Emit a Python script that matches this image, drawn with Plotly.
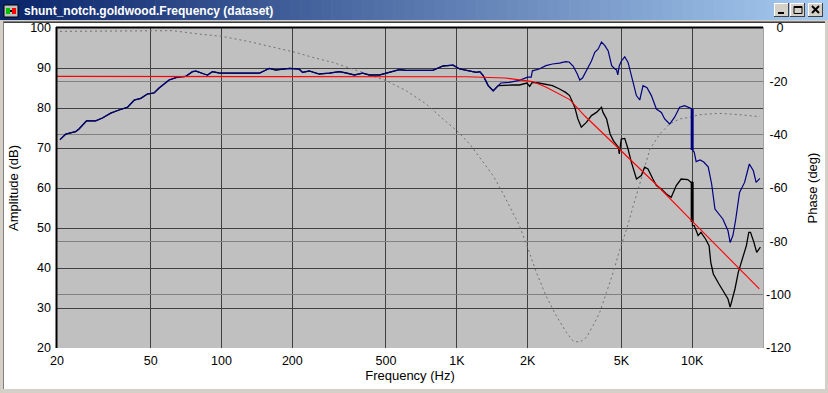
import plotly.graph_objects as go

# ---------------- data ----------------
common_freq = [20.6, 21.8, 24.0, 24.8, 26.7, 29.2, 31.2, 33.8, 36.7, 39.9, 42.6, 45.4, 48.4, 51.7,
               54.3, 59.9, 65, 70.5, 75.3, 78, 84.4, 87.2, 91.5, 97.8, 111, 145, 154.5, 159.6,
               170, 182, 195, 214, 221, 236, 260, 287, 317, 339, 367, 398, 425, 469, 517, 570,
               609, 790, 873, 964, 1029, 1134, 1210, 1252, 1294, 1359, 1428, 1500]
common_db = [72.1, 73.5, 74.1, 74.75, 76.8, 76.8, 77.5, 78.7, 79.5, 80.2, 82, 82.4, 83.5, 83.75,
             85, 87, 87.7, 87.9, 89.1, 89.2, 88.5, 88.25, 89.1, 88.75, 88.7, 88.7, 89.5, 89.9,
             89.5, 89.75, 89.9, 89.7, 88.9, 89.25, 88.5, 88.7, 89.1, 88.75, 88.25, 88.7, 88.25,
             88.25, 88.9, 89.6, 89.4, 89.4, 90.5, 90.7, 89.75, 89.2, 88.9, 89.1, 88.1, 85.6,
             84.3, 85.6]

blue_hf_freq = [1540, 1670, 1844, 2000, 2070, 2095, 2240, 2390, 2550, 2730, 2900, 3000, 3120,
                3250, 3330, 3420, 3553, 3733, 3857, 3987, 4120, 4257, 4399, 4549, 4700, 4776,
                4830, 4900, 5005, 5170, 5342, 5521, 5795, 5987, 6185, 6430, 6710, 7047, 7400,
                7643, 8024, 8423, 8844, 9286, 9750, 10000, 10030, 10200, 10400, 10800, 11200,
                11700, 12100, 12500, 13500, 14200, 14500, 14900, 15300, 15900, 16700, 17500,
                18200, 18700, 19400]
blue_hf_db = [86.25, 86.4, 86.9, 87.7, 87.7, 89.3, 89.75, 90.6, 91.0, 91.2, 91.6, 91.5, 90.5,
              88.5, 87.0, 87.5, 89.2, 91.75, 93.9, 94.75, 96.5, 95.6, 94.25, 90.6, 89.75, 89.5,
              88.3, 90.5, 91.75, 92.8, 91.4, 88.0, 83.1, 82.0, 85.6, 85.1, 83.1, 79.75, 78.9,
              77.25, 76.0, 77.7, 80.2, 80.6, 80.0, 79.75, 69.5, 69.0, 66.6, 67.0, 66.5, 65.3,
              61.0, 54.75, 52.25, 49.3, 46.4, 48.1, 52.0, 58.9, 61.4, 66.0, 64.3, 61.4, 62.4]

black_hf_freq = [1627, 1740, 1844, 1985, 2040, 2091, 2230, 2390, 2550, 2733, 2900, 3015, 3170,
                 3270, 3380, 3553, 3733, 3920, 4120, 4180, 4330, 4480, 4630, 4860, 4900, 5000,
                 5170, 5340, 5520, 5800, 6080, 6280, 6490, 6810, 7050, 7400, 7770, 8150, 8560,
                 8980, 9580, 9900, 10000, 10030, 10200, 10600, 10900, 11400, 11800, 12000,
                 12300, 13000, 13700, 14200, 14500, 14750, 15200, 15700, 16400, 17000, 17400,
                 17700, 18300, 18800, 19500]
black_hf_db = [85.75, 85.75, 85.75, 86.25, 85.4, 86.4, 86.25, 86.0, 85.6, 84.75, 83.9, 83.1,
               80.2, 77.25, 75.2, 76.4, 78.1, 78.9, 80.2, 78.9, 77.25, 73.5, 71.8, 70.2, 68.5,
               72.25, 72.4, 69.75, 66.4, 62.25, 63.1, 65.2, 64.75, 62.25, 60.6, 59.75, 58.5,
               57.7, 60.6, 62.25, 62.1, 61.4, 61.5, 50.6, 50.6, 48.1, 48.9, 47.25, 45.6, 41.4,
               38.5, 36.0, 33.9, 32.25, 30.2, 31.8, 34.75, 38.9, 42.25, 45.6, 48.9, 48.9, 46.4,
               43.9, 45.2]

blue_step_freq = [10000, 10000]
blue_step_db = [79.8, 69.5]
black_step_freq = [10000, 10000]
black_step_db = [61.5, 51.5]

target_freq = [20, 1100, 1600, 1850, 2100, 2400, 2730, 3020, 3500, 5000, 7000, 10000, 14000, 19300]
target_db = [87.9, 87.8, 87.5, 87.1, 86.6, 85.2, 83.5, 82.1, 78.0, 69.2, 61.0, 51.7, 43.0, 34.8]

phase_freq = [20.6, 49, 62, 80, 100, 131, 170, 201, 244, 297, 361, 439, 501, 609, 741, 873,
              1000, 1134, 1252, 1427, 1570, 1845, 1985, 2177, 2393, 2645, 2918, 3115, 3327,
              3553, 3793, 4050, 4325, 4620, 4933, 5268, 5625, 5905, 6080, 6620, 7290, 8024,
              8844, 9750, 10750, 13000, 15900, 19400]
phase_deg = [-1.25, -1, -1, -2.25, -3.1, -5.1, -7.25, -8.9, -11, -12.9, -15.4, -18.1, -19.75,
             -23.5, -28.5, -34.1, -38.5, -43.5, -48.5, -55.4, -62, -74.1, -81.6, -91.6, -100.4,
             -107.9, -114.1, -117.3, -117.9, -116, -111.6, -106.6, -99.1, -91.6, -82.9, -75.4,
             -66.6, -60.4, -56, -45.4, -39.75, -36, -34.1, -33.5, -32.5, -32, -32.5, -33.25]

freq_tickvals = [20, 50, 100, 200, 500, 1000, 2000, 5000, 10000]
freq_ticktext = ["20", "50", "100", "200", "500", "1K", "2K", "5K", "10K"]
amp_tickvals = [20, 30, 40, 50, 60, 70, 80, 90, 100]
phase_tickvals = [-120, -100, -80, -60, -40, -20, 0]
phase_ticktext = ["-120", "-100", "\u00a0-80", "\u00a0-60", "\u00a0-40", "\u00a0-20",
                  "\u00a0\u00a0\u00a00"]

window_title = "shunt_notch.goldwood.Frequency (dataset)"

# ---------------- geometry helpers ----------------
W, H = 828, 393
L, R, T, B = 57, 65, 28, 45
PW = W - L - R
PH = H - T - B


def px(x):
    return (x - L) / PW


def py(y):
    return (H - B - y) / PH


FONT = "Liberation Sans, Arial, sans-serif"

fig = go.Figure()

# phase (main y axis, right side), drawn first so amplitude curves lie above
fig.add_trace(go.Scatter(x=phase_freq, y=phase_deg, mode="lines", yaxis="y",
                         line=dict(color="#707070", width=1, dash="2px,3px"),
                         hoverinfo="skip"))
# amplitude curves on overlaying axis
fig.add_trace(go.Scatter(x=common_freq + black_hf_freq, y=common_db + black_hf_db,
                         mode="lines", yaxis="y2", line=dict(color="#000000", width=1.3),
                         hoverinfo="skip"))
fig.add_trace(go.Scatter(x=black_step_freq, y=black_step_db, mode="lines", yaxis="y2",
                         line=dict(color="#000000", width=3), hoverinfo="skip"))
fig.add_trace(go.Scatter(x=common_freq + blue_hf_freq, y=common_db + blue_hf_db,
                         mode="lines", yaxis="y2", line=dict(color="#000080", width=1.2),
                         hoverinfo="skip"))
fig.add_trace(go.Scatter(x=blue_step_freq, y=blue_step_db, mode="lines", yaxis="y2",
                         line=dict(color="#000080", width=3), hoverinfo="skip"))
fig.add_trace(go.Scatter(x=target_freq, y=target_db, mode="lines", yaxis="y2",
                         line=dict(color="#FF0000", width=1.1), hoverinfo="skip"))

shapes = []


def rect(x0, y0, x1, y1, fill, line=None, lw=0, layer="below"):
    shapes.append(dict(type="rect", xref="paper", yref="paper",
                       x0=px(x0), x1=px(x1), y0=py(y1), y1=py(y0),
                       fillcolor=fill, line=dict(width=lw, color=line or fill),
                       layer=layer))


def seg(x0, y0, x1, y1, color, w=1, layer="below"):
    shapes.append(dict(type="line", xref="paper", yref="paper",
                       x0=px(x0), x1=px(x1), y0=py(y0), y1=py(y1),
                       line=dict(color=color, width=w), layer=layer))


# client area
rect(3, 21, 825, 389, "#FFFFFF")
seg(3, 21.5, 825, 21.5, "#808080")
seg(3.5, 21, 3.5, 389, "#808080")
seg(4, 22.5, 825, 22.5, "#404040")
# title bar gradient
N = 80
c0 = (10, 36, 106)
c1 = (166, 202, 240)
for i in range(N):
    t = i / (N - 1)
    col = "rgb(%d,%d,%d)" % tuple(round(a + (b - a) * t) for a, b in zip(c0, c1))
    rect(W * i / N, 0, W * (i + 1) / N + 0.6, 20, col)
# plot background and 3D frame
rect(L, T, 763, 348, "#C0C0C0")
seg(L - 1, 26, 764, 26, "#FFFFFF", 1, "below")
seg(L - 1, 27.5, 763, 27.5, "#000000", 2, "above")
seg(L - 0.5, 27, L - 0.5, 348, "#000000", 2, "above")
seg(763.5, 27, 763.5, 349, "#A0A0A0", 1, "above")
seg(L, 348.5, 764, 348.5, "#FFFFFF", 1, "above")

# icon
rect(4, 5, 18, 17, "#C0C0C0", "#000000", 1, "above")
rect(6, 8, 10, 14, "#00C000", "#00C000", 0, "above")
rect(12, 8, 16, 14, "#FF0000", "#FF0000", 0, "above")
seg(10, 11, 12, 11, "#000000", 2, "above")

# caption buttons
for bx in (774, 790, 808):
    rect(bx, 3, bx + 15, 17, "#D4D0C8", None, 0, "above")
    seg(bx, 3.5, bx + 15, 3.5, "#FFFFFF", 1, "above")
    seg(bx + 0.5, 3, bx + 0.5, 17, "#FFFFFF", 1, "above")
    seg(bx, 16.5, bx + 15, 16.5, "#404040", 1, "above")
    seg(bx + 14.5, 3, bx + 14.5, 17, "#404040", 1, "above")
rect(778, 12, 784, 14, "#000000", "#000000", 0, "above")
rect(794, 6.5, 802, 13.5, "rgba(0,0,0,0)", "#000000", 1, "above")
seg(794, 7, 802, 7, "#000000", 2, "above")
seg(812, 6, 819, 13, "#000000", 2, "above")
seg(819, 6, 812, 13, "#000000", 2, "above")

annotations = [dict(x=px(22), y=py(11), xref="paper", yref="paper", xanchor="left",
                    yanchor="middle", text=window_title, showarrow=False,
                    font=dict(family=FONT, size=12, color="#FFFFFF", weight="bold"))]

fig.update_layout(
    width=W, height=H,
    margin=dict(l=L, r=R, t=T, b=B, pad=0),
    paper_bgcolor="#D4D0C8",
    plot_bgcolor="rgba(0,0,0,0)",
    showlegend=False,
    hovermode=False,
    shapes=shapes,
    annotations=annotations,
    font=dict(family=FONT, size=12.5, color="#000000"),
    xaxis=dict(type="log", range=[1.30103, 4.30103], tickvals=freq_tickvals,
               ticktext=freq_ticktext, showgrid=True, gridcolor="#404040", gridwidth=1,
               zeroline=False, showline=False, ticks="", ticklabelstandoff=3,
               title=dict(text="Frequency (Hz)", font=dict(size=13), standoff=4),
               anchor="y"),
    yaxis=dict(side="right", range=[-120, 0], tickvals=phase_tickvals,
               ticktext=phase_ticktext, showgrid=True, gridcolor="#808080", gridwidth=1,
               zeroline=False, showline=False, ticks="", ticklabelstandoff=2,
               title=dict(text="Phase (deg)", font=dict(size=13), standoff=17)),
    yaxis2=dict(side="left", overlaying="y", range=[20, 100], tickvals=amp_tickvals,
                showgrid=True, gridcolor="#404040", gridwidth=1, zeroline=False,
                showline=False, ticks="", ticklabelstandoff=5,
                title=dict(text="Amplitude (dB)", font=dict(size=13), standoff=8)),
)

fig.write_html("out.html", config={"displayModeBar": False, "staticPlot": True},
               post_script="document.body.style.margin='0px';document.body.style.overflow='hidden';")
